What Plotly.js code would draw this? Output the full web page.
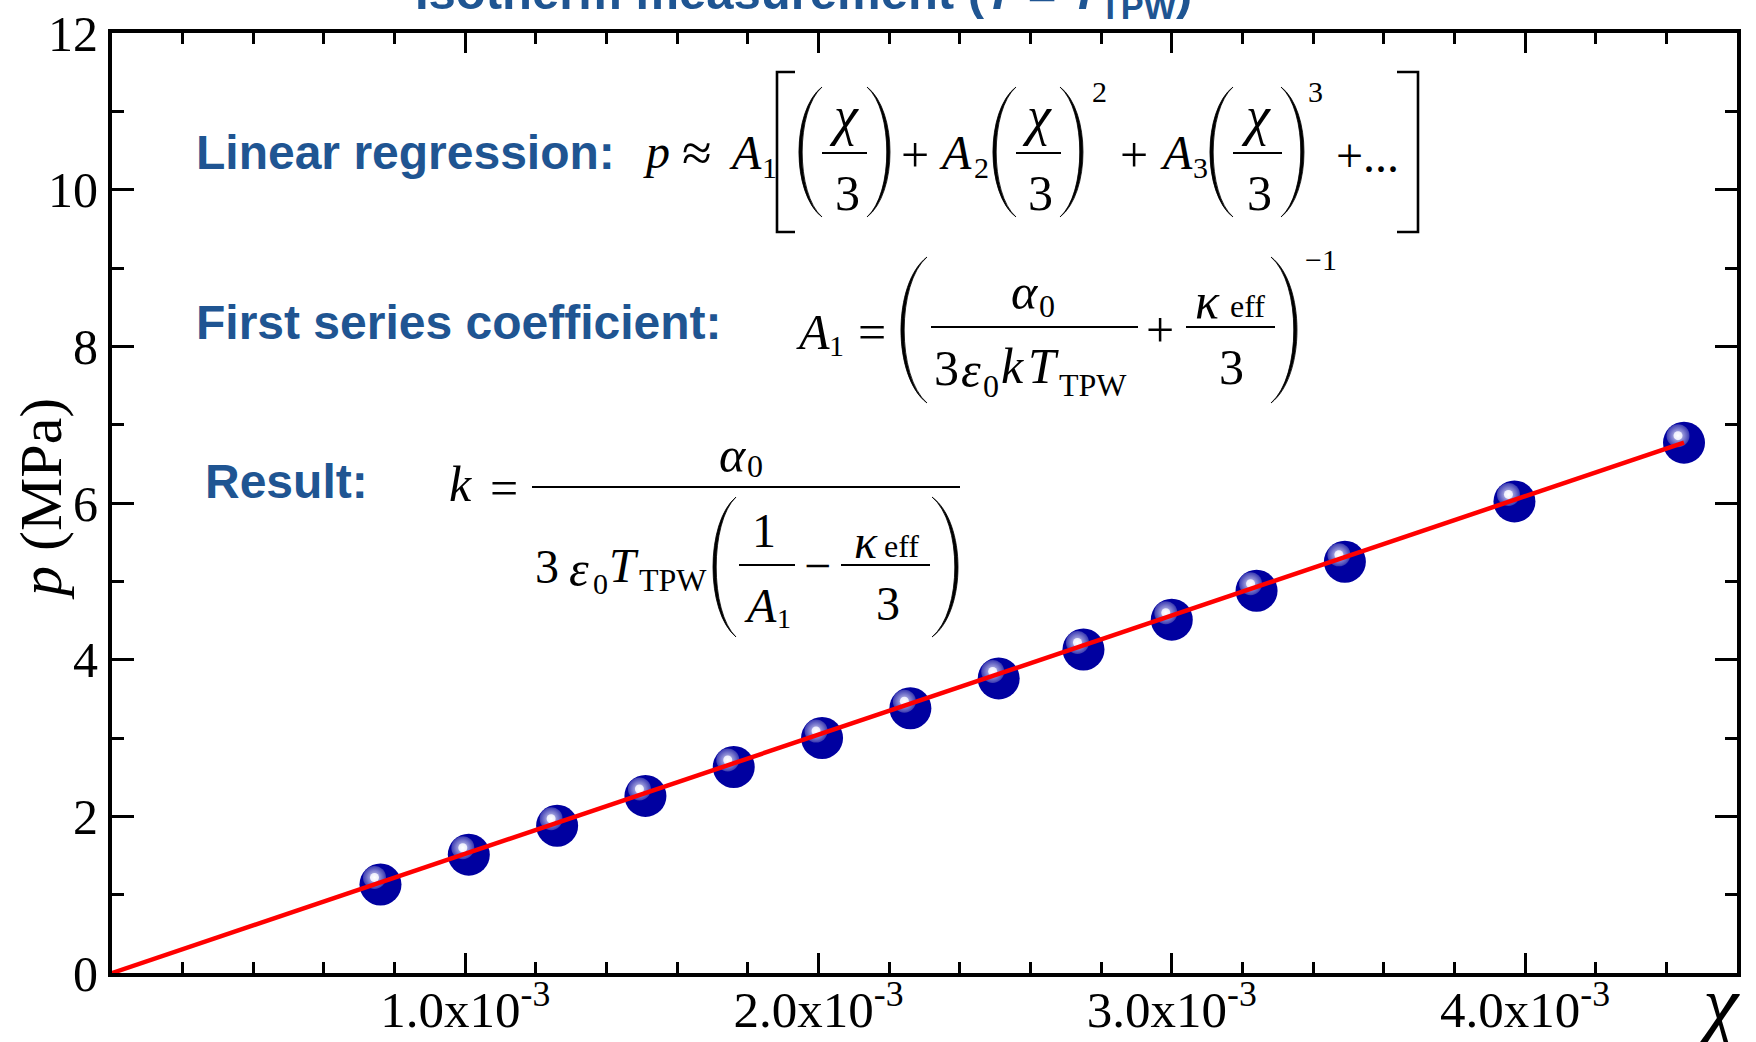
<!DOCTYPE html>
<html><head><meta charset="utf-8">
<script src="https://cdn.plot.ly/plotly-3.0.1.min.js"></script>
<style>html,body{margin:0;padding:0;background:#fff;overflow:hidden}</style>
</head><body><div id="chart" style="width:1756px;height:1042px"></div>
<script>
// ---------------- data ----------------
const chi = [0.76e-3, 1.01e-3, 1.26e-3, 1.51e-3, 1.76e-3, 2.01e-3, 2.26e-3, 2.51e-3, 2.75e-3, 3.00e-3, 3.24e-3, 3.49e-3, 3.97e-3, 4.45e-3];
const pressure = [1.13, 1.51, 1.88, 2.26, 2.63, 3.00, 3.38, 3.76, 4.13, 4.51, 4.88, 5.25, 6.02, 6.77];
const fitChi = [0, 4.45e-3];
const fitP = [0, 6.77];
const xTickVals = [1e-3, 2e-3, 3e-3, 4e-3];
const xTickText = ['1.0x10<sup>-3</sup>', '2.0x10<sup>-3</sup>', '3.0x10<sup>-3</sup>', '4.0x10<sup>-3</sup>'];
const yTickVals = [0, 2, 4, 6, 8, 10, 12];
const yTickText = ['0', '2', '4', '6', '8', '10', '12'];
const xRange = [0, 4.6e-3];
const yRange = [0, 12];

// ---------------- geometry ----------------
const W = 1756, H = 1042, ML = 112, MR = 19, MT = 33, MB = 69;
const PW = W - ML - MR, PH = H - MT - MB;
const X = v => (v - ML) / PW;
const Y = v => (H - MB - v) / PH;

const SERIF = 'Liberation Serif, Times New Roman, serif';
const SANS = 'Liberation Sans, Arial, sans-serif';
const BLUE = '#1f5592';

const annotations = [];
const shapes = [];
function txt(s, x, y, size, opt) {
  annotations.push(Object.assign({
    text: s, x: X(x), y: Y(y), xref: 'paper', yref: 'paper', showarrow: false,
    xanchor: 'center', yanchor: 'middle',
    font: {family: SERIF, size: size, color: 'black'}
  }, opt || {}));
}
function label(s, x, y) {
  txt('<b>' + s + '</b>', x, y, 48, {xanchor: 'left', font: {family: SANS, size: 48, color: BLUE}});
}
function bar(x0, x1, y, w) {
  shapes.push({type: 'line', xref: 'paper', yref: 'paper', x0: X(x0), x1: X(x1), y0: Y(y), y1: Y(y),
    line: {color: 'black', width: w || 2}});
}
function paren(x0, x1, y0, y1, left) {
  const th = 3.2;
  const tip = left ? x1 : x0;
  const outer = left ? x0 : x1;
  const inner = left ? x0 + th : x1 - th;
  const c1 = tip + (outer - tip) * 4 / 3;
  const c2 = tip + (inner - tip) * 4 / 3;
  const h = y1 - y0;
  const ya = y0 + 0.18 * h, yb = y1 - 0.18 * h;
  const p = `M ${X(tip)},${Y(y0)} C ${X(c1)},${Y(ya)} ${X(c1)},${Y(yb)} ${X(tip)},${Y(y1)} ` +
            `C ${X(c2)},${Y(yb)} ${X(c2)},${Y(ya)} ${X(tip)},${Y(y0)} Z`;
  shapes.push({type: 'path', xref: 'paper', yref: 'paper', path: p, fillcolor: 'black', line: {color: 'black', width: 0.8}});
}
function bracket(x0, x1, y0, y1, left) {
  const v = left ? x0 : x1, s = left ? x1 : x0;
  const p = `M ${X(s)},${Y(y0)} L ${X(v)},${Y(y0)} L ${X(v)},${Y(y1)} L ${X(s)},${Y(y1)}`;
  shapes.push({type: 'path', xref: 'paper', yref: 'paper', path: p, line: {color: 'black', width: 2.6}});
}
function chiOver3(cx, x0, x1) {
  txt('<i>χ</i>', cx - 2, 116, 54);
  txt('3', cx + 1, 193, 50);
  bar(x0, x1, 153, 2);
}

// ---------------- title (cropped at the top) ----------------
txt('<b>Isotherm measurement (<i>T</i> = <i>T</i><sub>TPW</sub>)</b>', 413, 28, 49,
  {xanchor: 'left', yanchor: 'bottom', font: {family: SANS, size: 49, color: BLUE}});

// ---------------- equation 1 ----------------
label('Linear regression:', 194, 153);
txt('<i>p</i>', 656, 151, 48);
txt('≈', 697, 153, 54);
txt('<i>A</i>', 745, 153, 48);
txt('1', 769, 167, 30);
bracket(777, 795, 72, 232, true);
paren(799, 822, 87, 217, true);
chiOver3(846, 822, 867);
paren(867, 890, 87, 217, false);
txt('+', 915, 155, 50);
txt('<i>A</i>', 955, 153, 48);
txt('2', 981, 167, 30);
paren(993, 1016, 87, 217, true);
chiOver3(1039, 1016, 1061);
paren(1060, 1083, 87, 217, false);
txt('2', 1099, 91, 30);
txt('+', 1134, 155, 50);
txt('<i>A</i>', 1176, 153, 48);
txt('3', 1200, 167, 30);
paren(1210, 1233, 87, 217, true);
chiOver3(1258, 1233, 1282);
paren(1281, 1304, 87, 217, false);
txt('3', 1315, 91, 30);
txt('+...', 1367, 155, 48);
bracket(1397, 1418, 72, 232, false);

// ---------------- equation 2 ----------------
label('First series coefficient:', 194, 323);
txt('<i>A</i>', 813, 332, 50);
txt('1', 836, 346, 30);
txt('=', 872, 332, 50);
paren(901, 927, 257, 403, true);
txt('<i>α</i>', 1025, 292, 50);
txt('0', 1047, 306, 32);
bar(931, 1138, 327, 2);
txt('3', 946, 368, 50);
txt('<i>ε</i>', 971, 370, 50);
txt('0', 991, 386, 32);
txt('<i>k</i>', 1012, 366, 50);
txt('<i>T</i>', 1043, 366, 50);
txt('TPW', 1093, 385, 32);
txt('+', 1160, 330, 50);
txt('<i>κ</i>', 1207, 301, 50);
txt('eff', 1247, 306, 32);
bar(1186, 1275, 327, 2);
txt('3', 1231, 367, 50);
paren(1271, 1297, 257, 403, false);
txt('−1', 1321, 259, 30);

// ---------------- equation 3 ----------------
label('Result:', 203, 481);
txt('<i>k</i>', 460, 484, 50);
txt('=', 504, 488, 50);
bar(532, 960, 487, 2);
txt('<i>α</i>', 733, 455, 50);
txt('0', 755, 466, 32);
txt('3', 547, 566, 48);
txt('<i>ε</i>', 579, 569, 50);
txt('0', 600, 584, 30);
txt('<i>T</i>', 624, 565, 48);
txt('TPW', 673, 580, 32);
paren(713, 736, 497, 637, true);
txt('1', 764, 530, 48);
bar(739, 795, 565, 2);
txt('<i>A</i>', 760, 605, 48);
txt('1', 784, 618, 28);
txt('−', 817, 565, 48);
txt('<i>κ</i>', 866, 541, 48);
txt('eff', 901, 546, 32);
bar(841, 930, 565, 2);
txt('3', 888, 603, 48);
paren(932, 958, 497, 637, false);

// ---------------- axis titles ----------------
txt('<i>p</i> (MPa)', 41, 499, 60, {textangle: -90});
txt('<i>χ</i>', 1718, 1004, 80);

// ---------------- traces ----------------
const dxPix = (xRange[1] - xRange[0]) / PW, dyPix = (yRange[1] - yRange[0]) / PH;
const hiX = chi.map(v => v - 6 * dxPix);
const hiY = pressure.map(v => v + 7 * dyPix);

const traces = [
  {x: chi, y: pressure, type: 'scatter', mode: 'markers', hoverinfo: 'skip',
   marker: {size: 42, color: '#0000a0', line: {width: 0}}},
  {x: hiX, y: hiY, type: 'scatter', mode: 'markers', hoverinfo: 'skip',
   marker: {size: 23, color: '#3a3ab2', gradient: {type: 'radial', color: '#dcdcf6'}, line: {width: 0}}},
  {x: hiX, y: hiY, type: 'scatter', mode: 'markers', hoverinfo: 'skip',
   marker: {size: 9, color: '#ececfc', gradient: {type: 'radial', color: '#ffffff'}, line: {width: 0}}},
  {x: fitChi, y: fitP, type: 'scatter', mode: 'lines', hoverinfo: 'skip',
   line: {color: '#ff0000', width: 4.5}}
];

const axisCommon = {
  showline: true, linewidth: 4, linecolor: 'black', mirror: 'ticks',
  ticks: 'inside', tickwidth: 3, tickcolor: 'black', showgrid: false, zeroline: false,
  automargin: false, fixedrange: true, tickmode: 'array'
};

const layout = {
  width: W, height: H, showlegend: false,
  paper_bgcolor: 'white', plot_bgcolor: 'white',
  margin: {l: ML, r: MR, t: MT, b: MB, pad: 0},
  xaxis: Object.assign({}, axisCommon, {
    range: xRange, tickvals: xTickVals, ticktext: xTickText, ticklen: 20,
    ticklabelstandoff: -11,
    tickfont: {family: SERIF, size: 51, color: 'black'},
    minor: {ticks: 'inside', ticklen: 11, tickwidth: 3, tickcolor: 'black', dtick: 0.0002, tick0: 0, showgrid: false}
  }),
  yaxis: Object.assign({}, axisCommon, {
    range: yRange, tickvals: yTickVals, ticktext: yTickText, ticklen: 22,
    tickfont: {family: SERIF, size: 50, color: 'black'},
    minor: {ticks: 'inside', ticklen: 12, tickwidth: 3, tickcolor: 'black', dtick: 1, tick0: 0, showgrid: false}
  }),
  annotations: annotations,
  shapes: shapes
};

Plotly.newPlot('chart', traces, layout, {displayModeBar: false, staticPlot: true});
</script></body></html>
